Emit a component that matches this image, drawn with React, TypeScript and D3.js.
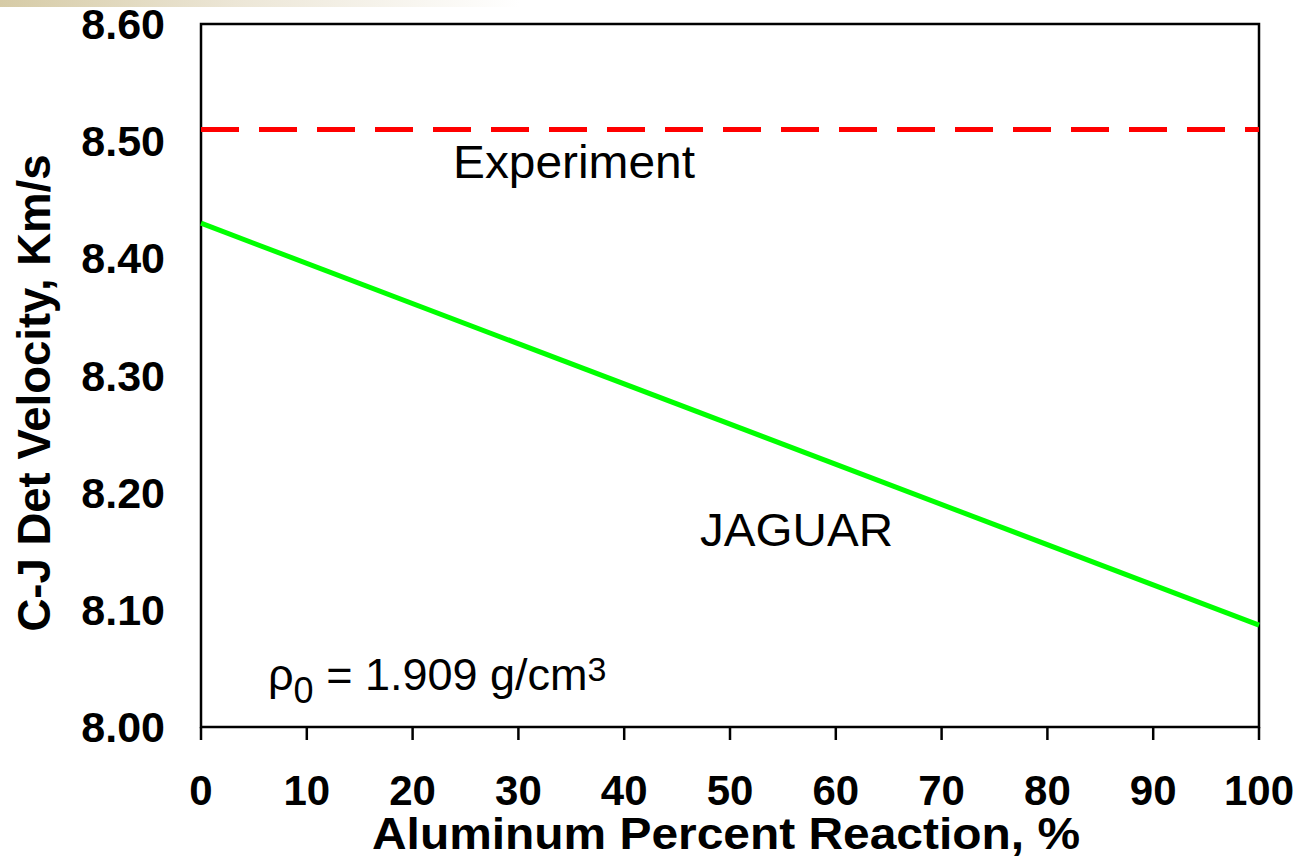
import React from "react";
import * as d3 from "d3";

const xTicks = [0, 10, 20, 30, 40, 50, 60, 70, 80, 90, 100];
const yTicks = [8.0, 8.1, 8.2, 8.3, 8.4, 8.5, 8.6];
const experimentValue = 8.51;
const jaguarX = [0, 100];
const jaguarY = [8.43, 8.087];

const W = 1298;
const H = 860;
const FONT = "'Liberation Sans', Arial, Helvetica, sans-serif";

export default function App() {
  const x = d3.scaleLinear().domain([0, 100]).range([201, 1259]);
  const y = d3.scaleLinear().domain([8.0, 8.6]).range([727, 24]);
  const line = d3
    .line<number>()
    .x((_, i) => x(jaguarX[i]))
    .y((d) => y(d));
  const jag = line(jaguarY) || "";

  return (
    <svg
      width={W}
      height={H}
      style={{ position: "absolute", left: 0, top: 0, background: "#fff" }}
      fontFamily={FONT}
    >
      <defs>
        <linearGradient id="topg" x1="0" x2="1" y1="0" y2="0">
          <stop offset="0" stopColor="#d6cba6" />
          <stop offset="0.45" stopColor="#ece6d6" />
          <stop offset="1" stopColor="#ffffff" />
        </linearGradient>
      </defs>
      <rect x={0} y={0} width={W} height={H} fill="#fff" />
      <rect x={0} y={0} width={520} height={7} fill="url(#topg)" />

      {/* plot frame */}
      <rect
        x={x(0)}
        y={y(8.6)}
        width={x(100) - x(0)}
        height={y(8.0) - y(8.6)}
        fill="none"
        stroke="#000"
        strokeWidth={2.5}
      />
      {/* x ticks */}
      {xTicks.map((t) => (
        <line
          key={"xt" + t}
          x1={x(t)}
          x2={x(t)}
          y1={y(8.0)}
          y2={y(8.0) + 13}
          stroke="#000"
          strokeWidth={2.5}
        />
      ))}
      {/* x tick labels */}
      {xTicks.map((t) => (
        <text
          key={"xl" + t}
          x={x(t)}
          y={805}
          textAnchor="middle"
          fontSize={42}
          fontWeight="bold"
          fill="#000"
        >
          {t}
        </text>
      ))}
      {/* y tick labels */}
      {yTicks.map((t) => (
        <text
          key={"yl" + t}
          x={165}
          y={y(t) + 15}
          textAnchor="end"
          fontSize={43}
          fontWeight="bold"
          fill="#000"
        >
          {t.toFixed(2)}
        </text>
      ))}

      {/* experiment line */}
      <line
        x1={x(0)}
        x2={x(100)}
        y1={y(experimentValue)}
        y2={y(experimentValue)}
        stroke="#ff0000"
        strokeWidth={5}
        strokeDasharray="38 20"
      />
      {/* JAGUAR line */}
      <path d={jag} fill="none" stroke="#00ff00" strokeWidth={5} />

      {/* annotations */}
      <text x={453} y={178} fontSize={46} fill="#000" textLength={242} lengthAdjust="spacingAndGlyphs">
        Experiment
      </text>
      <text x={700} y={546} fontSize={46} fill="#000" textLength={193} lengthAdjust="spacingAndGlyphs">
        JAGUAR
      </text>
      <text x={268} y={690} fontSize={45} fill="#000">
        ρ
        <tspan fontSize={36} dy={13}>0</tspan>
        <tspan fontSize={45} dy={-13}> = 1.909 g/cm</tspan>
        <tspan fontSize={34} dy={-9}>3</tspan>
      </text>

      {/* axis titles */}
      <text
        x={726}
        y={849}
        textAnchor="middle"
        fontSize={44}
        fontWeight="bold"
        fill="#000"
        textLength={708}
        lengthAdjust="spacingAndGlyphs"
      >
        Aluminum Percent Reaction, %
      </text>
      <text
        transform={`translate(50, 393) rotate(-90)`}
        textAnchor="middle"
        fontSize={46}
        fontWeight="bold"
        fill="#000"
        textLength={477}
        lengthAdjust="spacingAndGlyphs"
      >
        C-J Det Velocity, Km/s
      </text>
    </svg>
  );
}
